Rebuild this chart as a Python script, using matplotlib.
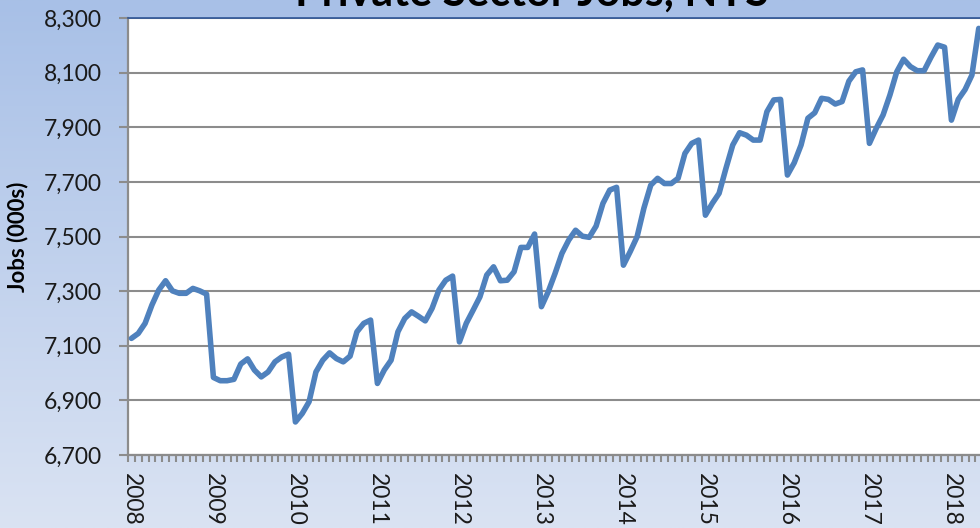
import numpy as np
import matplotlib
matplotlib.use("Agg")
import matplotlib.pyplot as plt
from matplotlib.ticker import FuncFormatter, FixedLocator

# Monthly private sector jobs, NYS (000s), Jan 2008 - May 2018
jobs_2008 = [7127, 7145, 7182, 7249, 7304, 7338, 7301, 7292, 7292, 7310, 7301, 7289]
jobs_2009 = [6984, 6972, 6972, 6977, 7033, 7052, 7011, 6986, 7004, 7041, 7059, 7069]
jobs_2010 = [6821, 6852, 6895, 7004, 7047, 7074, 7053, 7041, 7062, 7151, 7182, 7194]
jobs_2011 = [6962, 7011, 7047, 7151, 7200, 7224, 7208, 7191, 7237, 7304, 7340, 7355]
jobs_2012 = [7114, 7182, 7230, 7279, 7359, 7389, 7338, 7340, 7371, 7460, 7460, 7509]
jobs_2013 = [7243, 7298, 7365, 7438, 7487, 7523, 7501, 7497, 7538, 7621, 7670, 7680]
jobs_2014 = [7395, 7445, 7499, 7604, 7688, 7713, 7694, 7694, 7713, 7804, 7841, 7853]
jobs_2015 = [7578, 7621, 7658, 7749, 7835, 7880, 7871, 7853, 7853, 7957, 8000, 8002]
jobs_2016 = [7725, 7770, 7835, 7933, 7953, 8006, 8002, 7985, 7994, 8069, 8103, 8110]
jobs_2017 = [7841, 7896, 7945, 8018, 8103, 8149, 8122, 8107, 8107, 8156, 8201, 8193]
jobs_2018 = [7926, 8002, 8038, 8091, 8262]

years = ["2008", "2009", "2010", "2011", "2012", "2013",
         "2014", "2015", "2016", "2017", "2018"]
y_ticks = [6700, 6900, 7100, 7300, 7500, 7700, 7900, 8100, 8300]

jobs = (jobs_2008 + jobs_2009 + jobs_2010 + jobs_2011 + jobs_2012 + jobs_2013
        + jobs_2014 + jobs_2015 + jobs_2016 + jobs_2017 + jobs_2018)
months = np.arange(len(jobs))
n_months = 12 * len(years)

font = "Lato"
grey = "#8c8c8c"

fig = plt.figure(figsize=(9.8, 5.28), dpi=100)

# Gradient background behind everything
bg = fig.add_axes([0, 0, 1, 1], zorder=-10)
top_col = np.array([168, 192, 231]) / 255
bot_col = np.array([218, 227, 243]) / 255
t = np.linspace(0, 1, 256)[:, None, None]
grad = top_col * (1 - t) + bot_col * t
grad = np.repeat(grad, 2, axis=1)
bg.imshow(grad, aspect="auto", extent=[0, 1, 0, 1])
bg.axis("off")

# Plot area runs past the right edge, the picture is cropped there
ax = fig.add_axes([128 / 980, 73 / 528, (n_months * 82 / 12) / 980, 437 / 528])
ax.set_facecolor("white")
ax.plot(months, jobs, color="#4f81bd", linewidth=4.0, solid_joinstyle="round",
        solid_capstyle="round", zorder=3)

ax.set_ylim(6700, 8300)
ax.set_xlim(-0.5, n_months - 0.5)

# Y axis
ax.yaxis.set_major_locator(FixedLocator(y_ticks))
ax.yaxis.set_major_formatter(FuncFormatter(lambda v, p: f"{int(v):,}"))
ax.grid(axis="y", color=grey, linewidth=1.5, zorder=1)
ax.tick_params(axis="y", length=6.5, width=1.5, color=grey, pad=12.5,
               labelsize=16.5, labelcolor="#1a1a1a")

# X axis: month ticks, year labels on January
ax.set_xticks(np.arange(0, n_months, 12))
ax.set_xticklabels(years, rotation=-90, fontsize=16.5, color="#1a1a1a", family=font)
ax.set_xticks(np.arange(-0.5, n_months, 1), minor=True)
ax.tick_params(axis="x", which="major", length=0, pad=13)
ax.tick_params(axis="x", which="minor", length=5, width=1.5, color=grey)
for lab in ax.get_yticklabels():
    lab.set_family(font)

for side in ["left", "bottom"]:
    ax.spines[side].set_color(grey)
    ax.spines[side].set_linewidth(1.6)
ax.spines["top"].set_color("#2f5597")
ax.spines["top"].set_linewidth(1.2)
ax.spines["right"].set_visible(False)

# Title is cut off by the top edge, as in the source picture
fig.text(532 / 980, 1 - 6 / 528, "Private Sector Jobs, NYS", ha="center",
         va="baseline", fontsize=31, fontweight="bold", family=font, color="black")
fig.text(18 / 980, 1 - 237 / 528, "Jobs (000s)", rotation=90, ha="center",
         va="center", fontsize=16, fontweight="bold", family=font, color="black")

fig.savefig("out.png", dpi=100)
